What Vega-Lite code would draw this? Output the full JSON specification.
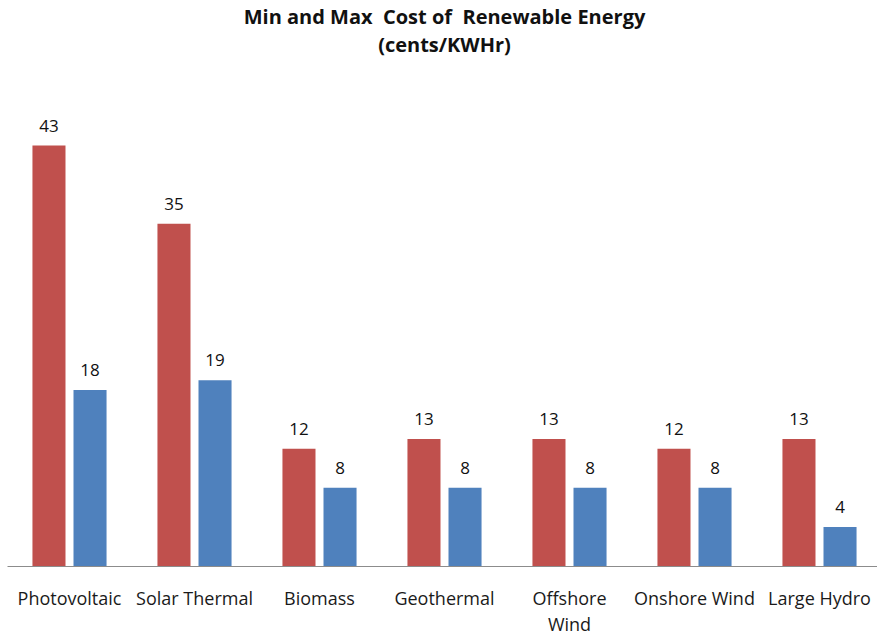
{
  "$schema": "https://vega.github.io/schema/vega-lite/v6.json",
  "autosize": "none",
  "width": 875,
  "height": 440,
  "padding": {"left": 7, "top": 126, "right": 0, "bottom": 71},
  "background": "white",
  "title": {
    "text": ["Min and Max\u00a0 Cost of\u00a0 Renewable Energy", "(cents/KWHr)"],
    "font": "Open Sans",
    "fontSize": 20,
    "fontWeight": "bold",
    "color": "#111111",
    "lineHeight": 28,
    "anchor": "middle",
    "offset": 62
  },
  "data": {
    "values": [
      {"source": "Photovoltaic", "bound": "Max", "cost": 43},
      {"source": "Photovoltaic", "bound": "Min", "cost": 18},
      {"source": "Solar Thermal", "bound": "Max", "cost": 35},
      {"source": "Solar Thermal", "bound": "Min", "cost": 19},
      {"source": "Biomass", "bound": "Max", "cost": 12},
      {"source": "Biomass", "bound": "Min", "cost": 8},
      {"source": "Geothermal", "bound": "Max", "cost": 13},
      {"source": "Geothermal", "bound": "Min", "cost": 8},
      {"source": "Offshore Wind", "bound": "Max", "cost": 13},
      {"source": "Offshore Wind", "bound": "Min", "cost": 8},
      {"source": "Onshore Wind", "bound": "Max", "cost": 12},
      {"source": "Onshore Wind", "bound": "Min", "cost": 8},
      {"source": "Large Hydro", "bound": "Max", "cost": 13},
      {"source": "Large Hydro", "bound": "Min", "cost": 4}
    ]
  },
  "encoding": {
    "x": {
      "field": "source",
      "type": "nominal",
      "sort": null,
      "scale": {"paddingInner": 0, "paddingOuter": 0},
      "axis": {
        "title": null,
        "labelAngle": 0,
        "ticks": false,
        "domainColor": "#8c8c8c",
        "domainWidth": 1,
        "labelFont": "Open Sans",
        "labelFontSize": 18,
        "labelColor": "#1a1a1a",
        "labelPadding": 24,
        "labelBaseline": "top",
        "labelLineHeight": 26,
        "labelExpr": "datum.label == 'Offshore Wind' ? ['Offshore', 'Wind'] : datum.label"
      }
    },
    "xOffset": {
      "field": "bound",
      "type": "nominal",
      "sort": ["Max", "Min"],
      "scale": {"paddingInner": 0.195, "paddingOuter": 0.62}
    },
    "y": {
      "field": "cost",
      "type": "quantitative",
      "scale": {"domain": [0, 45]},
      "axis": null
    }
  },
  "layer": [
    {
      "mark": {"type": "bar"},
      "encoding": {
        "color": {
          "field": "bound",
          "type": "nominal",
          "scale": {"domain": ["Max", "Min"], "range": ["#C0504D", "#4F81BD"]},
          "legend": null
        }
      }
    },
    {
      "mark": {
        "type": "text",
        "dy": -10,
        "baseline": "bottom",
        "font": "Open Sans",
        "fontSize": 17,
        "color": "#111111"
      },
      "encoding": {
        "text": {"field": "cost", "type": "quantitative"}
      }
    }
  ],
  "config": {
    "view": {"stroke": null},
    "axis": {"grid": false}
  }
}
